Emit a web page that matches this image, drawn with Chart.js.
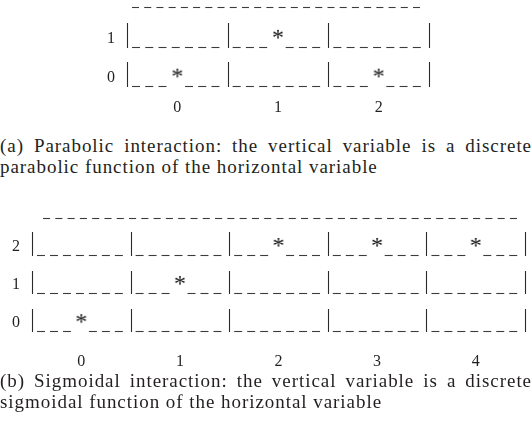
<!DOCTYPE html>
<html><head><meta charset="utf-8">
<script src="https://cdn.jsdelivr.net/npm/chart.js@4/dist/chart.umd.min.js"></script>
<style>
html,body{margin:0;padding:0;background:#fff;}
body{width:532px;height:429px;position:relative;overflow:hidden;font-family:"Liberation Serif","Times New Roman",serif;color:#231f20;}
.wrap{position:absolute;left:0;width:532px;}
.cap{position:absolute;left:0;width:532px;font-size:19px;line-height:21px;letter-spacing:0.95px;}
.l1{text-align:justify;text-align-last:justify;}
</style></head><body>
<div class="wrap" style="top:0;height:124px"><canvas id="ca" width="532" height="124"></canvas></div>
<div class="cap" style="top:135px"><div class="l1">(a) Parabolic interaction: the vertical variable is a discrete</div><div>parabolic function of the horizontal variable</div></div>
<div class="wrap" style="top:200px;height:176px"><canvas id="cb" width="532" height="176"></canvas></div>
<div class="cap" style="top:371px;line-height:20.5px"><div class="l1">(b) Sigmoidal interaction: the vertical variable is a discrete</div><div>sigmoidal function of the horizontal variable</div></div>
<script>
// ---- data ----
const catsA = [0, 1, 2];          // horizontal variable (a)
const rowsA = [0, 1];             // vertical variable levels (a)
const valsA = [0, 1, 0];          // parabolic function values
const catsB = [0, 1, 2, 3, 4];    // horizontal variable (b)
const rowsB = [0, 1, 2];          // vertical variable levels (b)
const valsB = [0, 1, 2, 2, 2];    // sigmoidal function values

const INK = '#231f20';
const FONT = '"Liberation Serif", "Times New Roman", serif';

function starImage(lift){
  const c = document.createElement('canvas');
  c.width = 30; c.height = 30;
  const g = c.getContext('2d');
  g.fillStyle = '#111';
  g.font = '24px ' + FONT;
  g.textBaseline = 'alphabetic';
  const m = g.measureText('*');
  const w = m.actualBoundingBoxRight + m.actualBoundingBoxLeft;
  const h = m.actualBoundingBoxAscent + m.actualBoundingBoxDescent;
  const cx = 15, cy = 15 - lift;
  g.fillText('*', cx - w/2 + m.actualBoundingBoxLeft, cy - h/2 + m.actualBoundingBoxAscent);
  return c;
}
const STAR = starImage(5);

const asciiGrid = {
  id: 'asciiGrid',
  beforeDatasetsDraw(chart, args, o){
    const {ctx, chartArea: a, scales: {x, y}} = chart;
    const cats = o.cats, rows = o.rows;
    const pts = chart.data.datasets[0].data;
    ctx.save();
    ctx.lineWidth = 1.1;
    ctx.strokeStyle = o.dashColor;
    // top dashed rule: whole dashes only
    const gap = 5.2;
    const x1 = a.left + o.topStart, x2 = a.right - o.topEnd;
    const n = Math.round((x2 - x1 + gap) / 12.4);
    const per = (x2 - x1 + gap) / n;
    const ty = Math.round(y.getPixelForValue(y.max)) + 0.5;
    for (let i = 0; i < n; i++){
      const s = x1 + i * per;
      ctx.beginPath(); ctx.moveTo(s, ty); ctx.lineTo(s + per - gap, ty); ctx.stroke();
    }
    rows.forEach(r => {
      const cy = y.getPixelForValue(r);
      const ub = Math.round(cy + o.below) + 0.5;
      const top = Math.round(cy - o.above);
      const bounds = [cats[0] - 0.5].concat(cats.map(c => c + 0.5));
      ctx.strokeStyle = o.barColor;
      bounds.forEach(b => {
        const px = Math.round(x.getPixelForValue(b)) + 0.5;
        ctx.beginPath(); ctx.moveTo(px, top); ctx.lineTo(px, ub + 0.5); ctx.stroke();
      });
      ctx.strokeStyle = o.dashColor;
      cats.forEach(c => {
        const l = x.getPixelForValue(c - 0.5), rr = x.getPixelForValue(c + 0.5);
        const p = (rr - l) / 7.6, d = 8;
        const hasStar = pts.some(pt => pt.x === c && pt.y === r);
        for (let i = 0; i < 7; i++){
          if (hasStar && i === 3) continue;
          const x0 = l + 5 + i * p;
          ctx.beginPath(); ctx.moveTo(x0, ub); ctx.lineTo(x0 + d, ub); ctx.stroke();
        }
      });
    });
    ctx.restore();
  }
};

function makeChart(id, cats, rows, vals, cfg){
  return new Chart(document.getElementById(id), {
    type: 'scatter',
    data: { datasets: [{
      data: cats.map((c, i) => ({x: c, y: vals[i]})),
      pointStyle: STAR, pointRadius: 15, pointHoverRadius: 15
    }]},
    plugins: [asciiGrid],
    options: {
      responsive: false, animation: false, devicePixelRatio: 1,
      events: [],
      layout: { autoPadding: false, padding: { top: cfg.top, right: 532 - cfg.right, left: 0, bottom: 0 } },
      plugins: {
        legend: { display: false }, tooltip: { enabled: false },
        asciiGrid: { cats, rows, dashColor: '#3c3c3c', barColor: '#2a2a2a',
          topStart: cfg.topStart, topEnd: cfg.topEnd, above: cfg.above, below: 8 }
      },
      scales: {
        x: {
          type: 'linear', min: cats[0] - 0.5, max: cats[cats.length - 1] + 0.5,
          afterBuildTicks: s => { s.ticks = cats.map(v => ({value: v})); },
          afterFit: s => { s.height = 30; s.paddingLeft = 0; s.paddingRight = 0; },
          grid: { display: false }, border: { display: false },
          ticks: { color: INK, font: { family: FONT, size: 16 }, padding: cfg.xPad, maxRotation: 0, autoSkip: false }
        },
        y: {
          type: 'linear', min: cfg.ymin, max: cfg.ymax,
          afterBuildTicks: s => { s.ticks = rows.map(v => ({value: v})); },
          afterFit: s => { s.width = cfg.left; s.paddingTop = 0; s.paddingBottom = 0; },
          grid: { display: false }, border: { display: false },
          ticks: { color: INK, font: { family: FONT, size: 16 }, padding: 4 }
        }
      }
    }
  });
}

makeChart('ca', catsA, rowsA, valsA, { top: 7, left: 127, right: 429, ymin: -0.42, ymax: 1.82, xPad: -4, topStart: 5, topEnd: 9, above: 16 });
makeChart('cb', catsB, rowsB, valsB, { top: 18, left: 32, right: 525, ymin: -0.6, ymax: 2.76, xPad: -1.5, topStart: 11, topEnd: 8, above: 14.5 });
</script>
</body></html>
